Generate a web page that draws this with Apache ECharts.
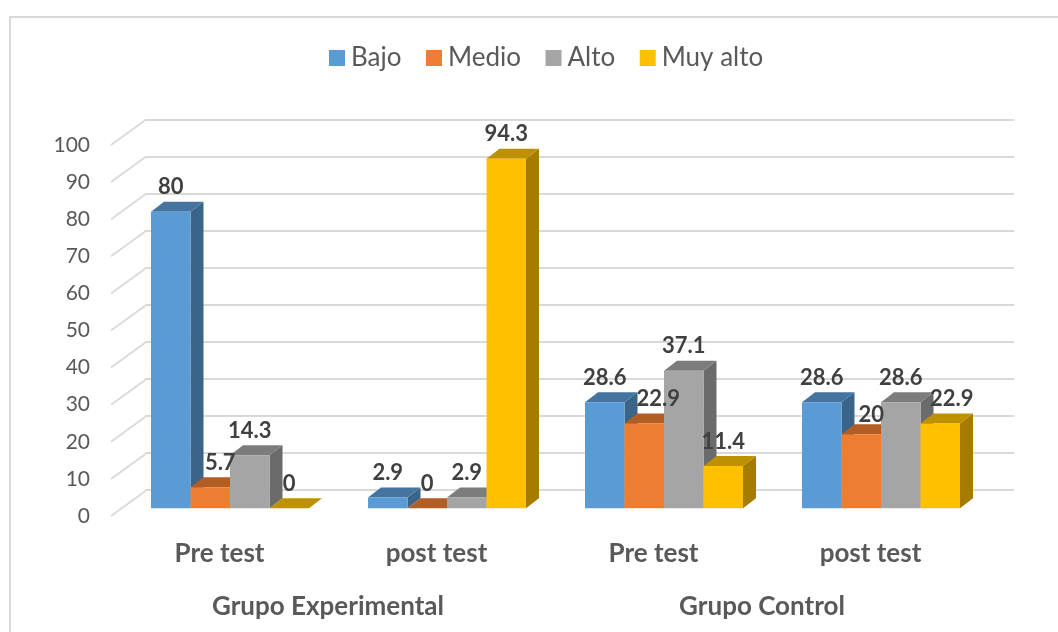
<!DOCTYPE html>
<html><head><meta charset="utf-8">
<style>html,body{margin:0;padding:0;background:#fff}#c{width:1058px;height:632px}</style>
<script src="https://cdn.jsdelivr.net/npm/echarts@6/dist/echarts.min.js"></script>
</head><body><div id="c"></div>
<script>
const tests = ['Pre test','post test','Pre test','post test'];
const groups = ['Grupo Experimental','Grupo Control'];
const seriesNames = ['Bajo','Medio','Alto','Muy alto'];
const bajo = [80,2.9,28.6,28.6];
const medio = [5.7,0,22.9,20];
const alto = [14.3,2.9,37.1,28.6];
const muyAlto = [0,94.3,11.4,22.9];
const yTicks = [0,10,20,30,40,50,60,70,80,90,100];

const palette = [
  {front:'#5b9bd5',top:'#44749f',side:'#3a6488'},
  {front:'#ed7d31',top:'#b25d24',side:'#9a5120'},
  {front:'#a5a5a5',top:'#7c7c7c',side:'#6b6b6b'},
  {front:'#ffc000',top:'#bf9000',side:'#a67c00'}
];
const FONT='Lato';
const labelNudge={'1:0':10,'1:2':14,'1:3':10,'3:3':11.5};
const labelLift={'1:3':19.5};
const DX=13,DY=10,BAR=39.5,WALLX=34.5,WALLY=25;

function barItem(si){
  return function(params,api){
    const c=api.value(0),v=api.value(1);
    const p=api.coord([c,v]), base=api.coord([c,0]);
    const x0=p[0]-2*BAR+si*BAR, x1=x0+BAR, yt=p[1], yb=base[1];
    const pal=palette[si];
    const key=si+':'+c;
    const kids=[
      {type:'polygon',shape:{points:[[x1,yt],[x1+DX,yt-DY],[x1+DX,yb-DY],[x1,yb]]},style:{fill:pal.side}},
      {type:'polygon',shape:{points:[[x0,yt],[x1,yt],[x1+DX,yt-DY],[x0+DX,yt-DY]]},style:{fill:pal.top}}
    ];
    if(v>0) kids.push({type:'rect',shape:{x:x0,y:yt,width:BAR,height:yb-yt},style:{fill:pal.front}});
    kids.push({type:'text',z2:100,style:{
      text:String(v),x:(x0+x1)/2+(labelNudge[key]||0),y:yt-(labelLift[key]||24.5),
      align:'center',verticalAlign:'middle',fill:'#404040',
      font:'bold 22px '+FONT}});
    return {type:'group',children:kids};
  };
}
const barValues=[bajo,medio,alto,muyAlto];
const barSeries=seriesNames.map((n,si)=>({
  name:n,type:'custom',xAxisIndex:3,yAxisIndex:2,
  itemStyle:{color:palette[si].front},
  renderItem:barItem(si),
  data:barValues[si].map((v,i)=>[i,v]),
  encode:{x:0,y:1},clip:false,silent:true
}));
const diag={
  type:'custom',xAxisIndex:0,yAxisIndex:0,silent:true,clip:false,
  renderItem:function(params,api){
    const y=api.coord([0,api.value(0)])[1], x=params.coordSys.x;
    return {type:'line',shape:{x1:x,y1:y,x2:x+WALLX,y2:y-WALLY},
      style:{stroke:'#d9d9d9',lineWidth:1.8}};
  },
  data:yTicks.map(v=>[v]),encode:{y:0}
};
const chart=echarts.init(document.getElementById('c'),null,{renderer:'canvas'});
chart.setOption({
  animation:false,
  backgroundColor:'#fff',
  graphic:[{type:'rect',shape:{x:10,y:17,width:1100,height:700},
    style:{fill:'none',stroke:'#d9d9d9',lineWidth:2},silent:true}],
  legend:{
    data:seriesNames,left:329,top:45,padding:0,icon:'rect',itemWidth:16,itemHeight:16,itemGap:24.5,selectedMode:false,
    textStyle:{fontFamily:FONT,fontSize:26,color:'#595959',padding:[0,0,0,1]}
  },
  grid:[
    {left:111,top:145,width:868,height:371},
    {left:145,top:120,width:869,height:370},
    {left:121.5,top:137.6,width:868,height:370.7}
  ],
  xAxis:[
    {type:'category',gridIndex:0,data:tests,axisLine:{show:false},axisTick:{show:false},
     axisLabel:{margin:25,interval:0,fontFamily:FONT,fontSize:26,fontWeight:'bold',color:'#595959'}},
    {type:'category',gridIndex:0,data:groups,position:'bottom',offset:53,axisLine:{show:false},axisTick:{show:false},
     axisLabel:{margin:25,interval:0,fontFamily:FONT,fontSize:26,fontWeight:'bold',color:'#595959'}},
    {type:'value',gridIndex:1,show:false,min:0,max:1,splitLine:{show:false}},
    {type:'category',gridIndex:2,show:false,data:tests}
  ],
  yAxis:[
    {type:'value',gridIndex:0,min:0,max:100,interval:10,axisLine:{show:false},axisTick:{show:false},splitLine:{show:false},
     axisLabel:{margin:21,fontFamily:FONT,fontSize:21,color:'#595959'}},
    {type:'value',gridIndex:1,min:0,max:100,interval:10,axisLine:{show:false},axisTick:{show:false},axisLabel:{show:false},
     splitLine:{show:true,lineStyle:{color:'#d9d9d9',width:1.8}}},
    {type:'value',gridIndex:2,min:0,max:100,interval:10,show:false,splitLine:{show:false}}
  ],
  series:[diag].concat(barSeries)
});
</script></body></html>
